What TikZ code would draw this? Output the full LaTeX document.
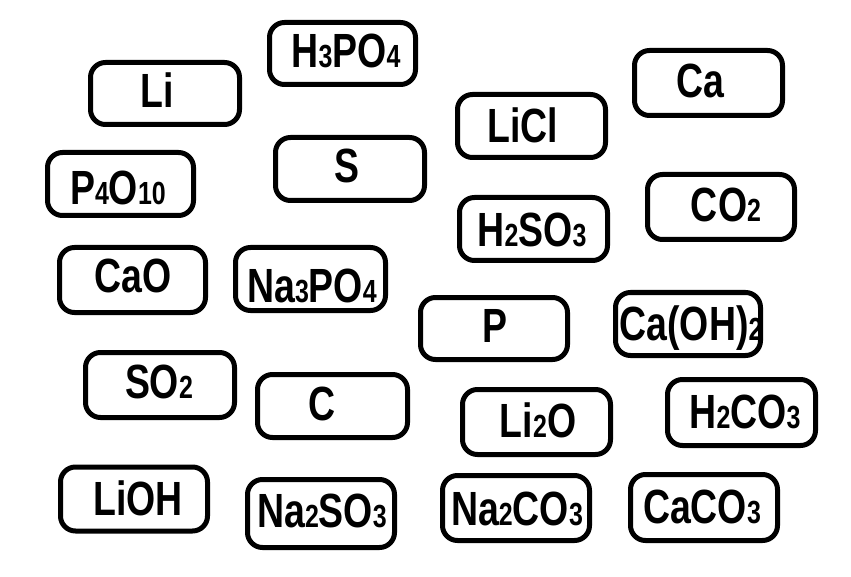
\documentclass[tikz,border=0pt]{standalone}
\usepackage{fontspec}
\newfontfamily\chemfont{Liberation Sans}[FakeStretch=0.78]
\newcommand\sn[1]{{\fontsize{32}{32}\selectfont #1}}
\tikzset{
  box/.style={draw=black, line width=5pt, rounded corners=15pt, inner sep=0pt,
    minimum width=147pt, minimum height=64pt},
  lbl/.style={anchor=base, inner sep=0pt, font=\chemfont\bfseries\fontsize{48}{48}\selectfont}
}
\begin{document}
\begin{tikzpicture}[x=1pt,y=-1pt]
\useasboundingbox[fill=white] (0,0) rectangle (851,577);
% boxes
\node[box, minimum width=146pt, minimum height=62pt] (h3po4) at (342.5,53.5) {};
\node[box, minimum width=149pt, minimum height=62pt] (li) at (165,93.5) {};
\node[box, minimum width=148pt, minimum height=63pt] (licl) at (531.5,126) {};
\node[box, minimum width=148pt, minimum height=65pt] (ca) at (708.5,83) {};
\node[box, minimum width=149pt, minimum height=63pt] (s) at (350,169) {};
\node[box, minimum width=146pt, minimum height=63pt] (p4o10) at (120.5,184) {};
\node[box, minimum width=147pt, minimum height=65pt] (co2) at (721,207) {};
\node[box, minimum width=148pt, minimum height=63pt] (h2so3) at (533.5,229) {};
\node[box, minimum width=146pt, minimum height=65pt] (cao) at (132.5,280) {};
\node[box, minimum width=150pt, minimum height=63pt] (na3po4) at (310.5,279) {};
\node[box, minimum width=147pt, minimum height=62pt] (p) at (494,328.5) {};
\node[box, minimum width=145pt, minimum height=63pt] (caoh2) at (688,324) {};
\node[box, minimum width=149pt, minimum height=65pt] (so2) at (160,385) {};
\node[box, minimum width=150pt, minimum height=63pt] (c) at (332.5,406) {};
\node[box, minimum width=148pt, minimum height=65pt] (li2o) at (536.5,422) {};
\node[box, minimum width=148pt, minimum height=66pt] (h2co3) at (741.5,412.5) {};
\node[box, minimum width=147pt, minimum height=64pt] (lioh) at (134,499) {};
\node[box, minimum width=147pt, minimum height=68pt] (na2so3) at (321,513.5) {};
\node[box, minimum width=147pt, minimum height=65pt] (na2co3) at (516,508) {};
\node[box, minimum width=147pt, minimum height=66pt] (caco3) at (704,507.5) {};
% labels
\node[lbl] (h3po4-t) at (346,68) {H\sn{3}PO\sn{4}};
\node[lbl] (li-t) at (157,108) {Li};
\node[lbl] (licl-t) at (523,143) {LiCl};
\node[lbl] (ca-t) at (700,98) {Ca};
\node[lbl] (s-t) at (347,183) {S};
\node[lbl] (p4o10-t) at (118,205) {P\sn{4}O\sn{10}};
\node[lbl] (co2-t) at (726,222) {CO\sn{2}};
\node[lbl] (h2so3-t) at (532,247) {H\sn{2}SO\sn{3}};
\node[lbl] (cao-t) at (133,293) {CaO};
\node[lbl] (na3po4-t) at (312,302) {Na\sn{3}PO\sn{4}};
\node[lbl] (p-t) at (495,342) {P};
\node[lbl] (caoh2-t) at (691,340) {Ca(OH)\sn{2}};
\node[lbl] (so2-t) at (159,398) {SO\sn{2}};
\node[lbl] (c-t) at (322,420) {C};
\node[lbl] (li2o-t) at (538,437) {Li\sn{2}O};
\node[lbl] (h2co3-t) at (745,428) {H\sn{2}CO\sn{3}};
\node[lbl] (lioh-t) at (138,515) {LiOH};
\node[lbl] (na2so3-t) at (322,527) {Na\sn{2}SO\sn{3}};
\node[lbl] (na2co3-t) at (517,525) {Na\sn{2}CO\sn{3}};
\node[lbl] (caco3-t) at (702,523) {CaCO\sn{3}};
\end{tikzpicture}
\end{document}
